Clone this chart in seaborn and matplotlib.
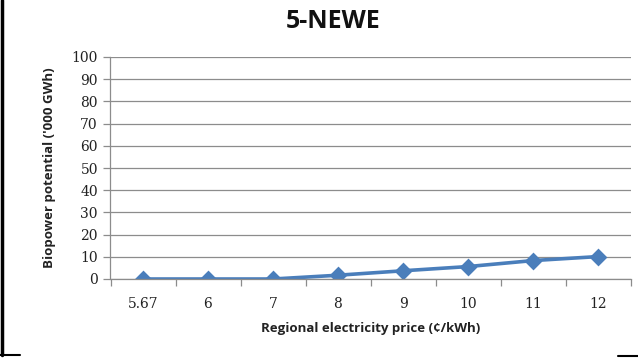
import matplotlib
matplotlib.use("Agg")
import matplotlib.pyplot as plt
from matplotlib.lines import Line2D
import seaborn as sns
import pandas as pd

prices = ["5.67", "6", "7", "8", "9", "10", "11", "12"]
potential = [0, 0, 0, 1.7, 3.7, 5.6, 8.3, 10.1]
y_ticks = [0, 10, 20, 30, 40, 50, 60, 70, 80, 90, 100]

df = pd.DataFrame({"price": prices, "potential": potential})

sns.set_theme(style="white")
W, H = 638, 360
fig = plt.figure(figsize=(W / 100, H / 100), dpi=100)
ax = fig.add_axes([110.5 / W, 1 - 279 / H, 520 / W, 222 / H])

sns.pointplot(data=df, x="price", y="potential", order=prices, ax=ax,
              color="#4a7ebb", markers="D", markersize=7, linewidth=2.6,
              errorbar=None)

ax.set_xlim(-0.5, len(prices) - 0.5)
ax.set_ylim(0, 100)
ax.set_yticks(y_ticks)
ax.grid(axis="y", color="#8c8c8c", linewidth=0.9)
ax.set_axisbelow(True)

for s in ["top", "right"]:
    ax.spines[s].set_visible(False)
for s in ["left", "bottom"]:
    ax.spines[s].set_color("#8c8c8c")
    ax.spines[s].set_linewidth(0.9)

ax.set_xticks([i - 0.5 for i in range(len(prices) + 1)], minor=True)
ax.tick_params(axis="x", which="major", length=0, pad=13)
ax.tick_params(axis="x", which="minor", length=5, color="#8c8c8c", width=0.9, direction="out")
ax.tick_params(axis="y", which="major", length=5, color="#8c8c8c", width=0.9, direction="out", pad=4)
ax.xaxis.set_ticks_position("bottom")
ax.yaxis.set_ticks_position("left")

for lab in ax.get_xticklabels() + ax.get_yticklabels():
    lab.set_family("DejaVu Serif")
    lab.set_fontsize(10)
    lab.set_color("#222222")

ax.set_xlabel("Regional electricity price (\u00a2/kWh)", fontsize=9.5,
              fontweight="bold", family="Open Sans", color="#222222", labelpad=8)
ax.set_ylabel("Biopower potential ('000 GWh)", fontsize=9.5,
              fontweight="bold", family="Open Sans", color="#222222", labelpad=11)
fig.text(333 / W, 1 - 22 / H, "5-NEWE", ha="center", va="center",
         fontsize=18, fontweight="bold", family="Open Sans", color="#111111")

# outer frame fragments
fig.add_artist(Line2D([1.5 / W, 1.5 / W], [1, 1 - 355 / H], transform=fig.transFigure,
                      color="black", linewidth=2.5))
fig.add_artist(Line2D([0, 20 / W], [1 - 355 / H, 1 - 355 / H], transform=fig.transFigure,
                      color="black", linewidth=1.5))
fig.add_artist(Line2D([618 / W, 1], [1 - 356 / H, 1 - 356 / H], transform=fig.transFigure,
                      color="black", linewidth=1.5))

fig.savefig("out.png", dpi=100, facecolor="white")
